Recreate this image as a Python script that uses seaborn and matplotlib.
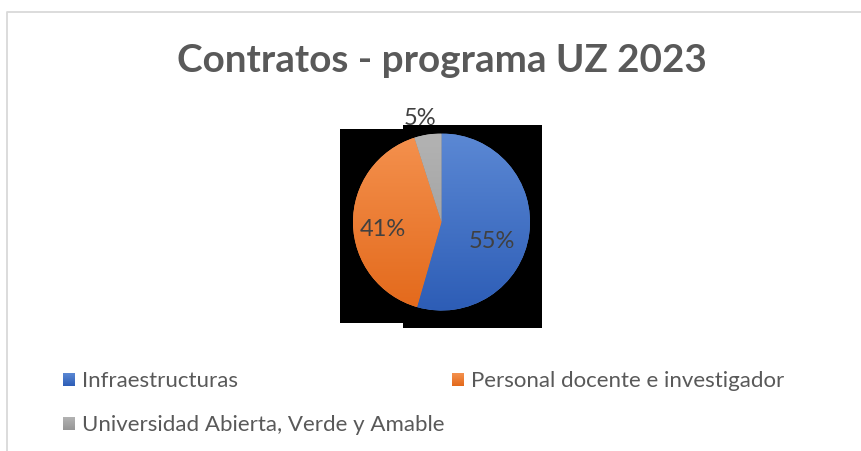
import numpy as np
import matplotlib
matplotlib.use('Agg')
import matplotlib.pyplot as plt
import seaborn as sns
from matplotlib.patches import Rectangle
from matplotlib.colors import LinearSegmentedColormap

# data
categories = ['Infraestructuras', 'Personal docente e investigador',
              'Universidad Abierta, Verde y Amable']
shares = [55, 41, 5]
title = 'Contratos - programa UZ 2023'

# Excel-style gradient fills (top -> bottom)
top_colors = ['#5B88D4', '#F4914E', '#B3B3B3']
bottom_colors = ['#2D5DB6', '#E3691B', '#969696']

sns.set_theme(style='white')
plt.rcParams['font.family'] = ['Lato', 'DejaVu Sans']

W, H = 862, 452
fig = plt.figure(figsize=(W / 100, H / 100), dpi=100)
fig.patch.set_facecolor('white')

bg = fig.add_axes([0, 0, 1, 1])
bg.set_xlim(0, W)
bg.set_ylim(H, 0)
bg.axis('off')

# chart frame (only top and left edges are visible)
bg.plot([7.5, 7.5, W + 5], [H + 5, 12.5, 12.5], color='#D9D9D9', lw=1.3,
        solid_capstyle='butt')

# black blocks behind the pie
bg.add_patch(Rectangle((340, 130), 100, 194, color='black', lw=0))
bg.add_patch(Rectangle((403, 126), 139, 203, color='black', lw=0))

bg.text(442, 61, title, ha='center', va='center', fontsize=27.8,
        fontweight='bold', color='#595959')

# pie
cx, cy, r = 441.5, 223, 88.5
ax = fig.add_axes([(cx - r) / W, 1 - (cy + r) / H, 2 * r / W, 2 * r / H])
wedges, _ = ax.pie(shares, startangle=90, counterclock=False, radius=1,
                   colors=top_colors, wedgeprops=dict(lw=0))
ax.axis('off')

grad = np.linspace(0, 1, 256).reshape(-1, 1)
for w, c0, c1 in zip(wedges, top_colors, bottom_colors):
    cmap = LinearSegmentedColormap.from_list('g', [c0, c1])
    im = ax.imshow(grad, cmap=cmap, extent=(-1, 1, -1, 1), origin='upper',
                   aspect='auto', zorder=w.get_zorder() + 0.1)
    im.set_clip_path(w)
ax.set_xlim(-1, 1)
ax.set_ylim(-1, 1)

label_dist = [0.6, 0.66, 1.2]
label_nudge = [(-0.03, -0.13), (0, -0.06), (-0.06, 0)]
for w, v, d, (nx, ny) in zip(wedges, shares, label_dist, label_nudge):
    th = np.deg2rad((w.theta1 + w.theta2) / 2)
    ax.text(d * np.cos(th) + nx, d * np.sin(th) + ny, f'{v}%',
            ha='center', va='center', fontsize=17, color='#404040',
            clip_on=False, zorder=10)

# legend
leg_pos = [(63, 381), (452, 381), (63, 425)]
for (lx, ly), lab, c0, c1 in zip(leg_pos, categories, top_colors, bottom_colors):
    cmap = LinearSegmentedColormap.from_list('g', [c0, c1])
    bg.imshow(grad, cmap=cmap, extent=(lx, lx + 11.5, ly + 6.5, ly - 6.5),
              aspect='auto', zorder=3)
    bg.text(lx + 19, ly, lab, ha='left', va='center', fontsize=16,
            color='#595959')
bg.set_xlim(0, W)
bg.set_ylim(H, 0)

fig.savefig('out.png', dpi=100)
